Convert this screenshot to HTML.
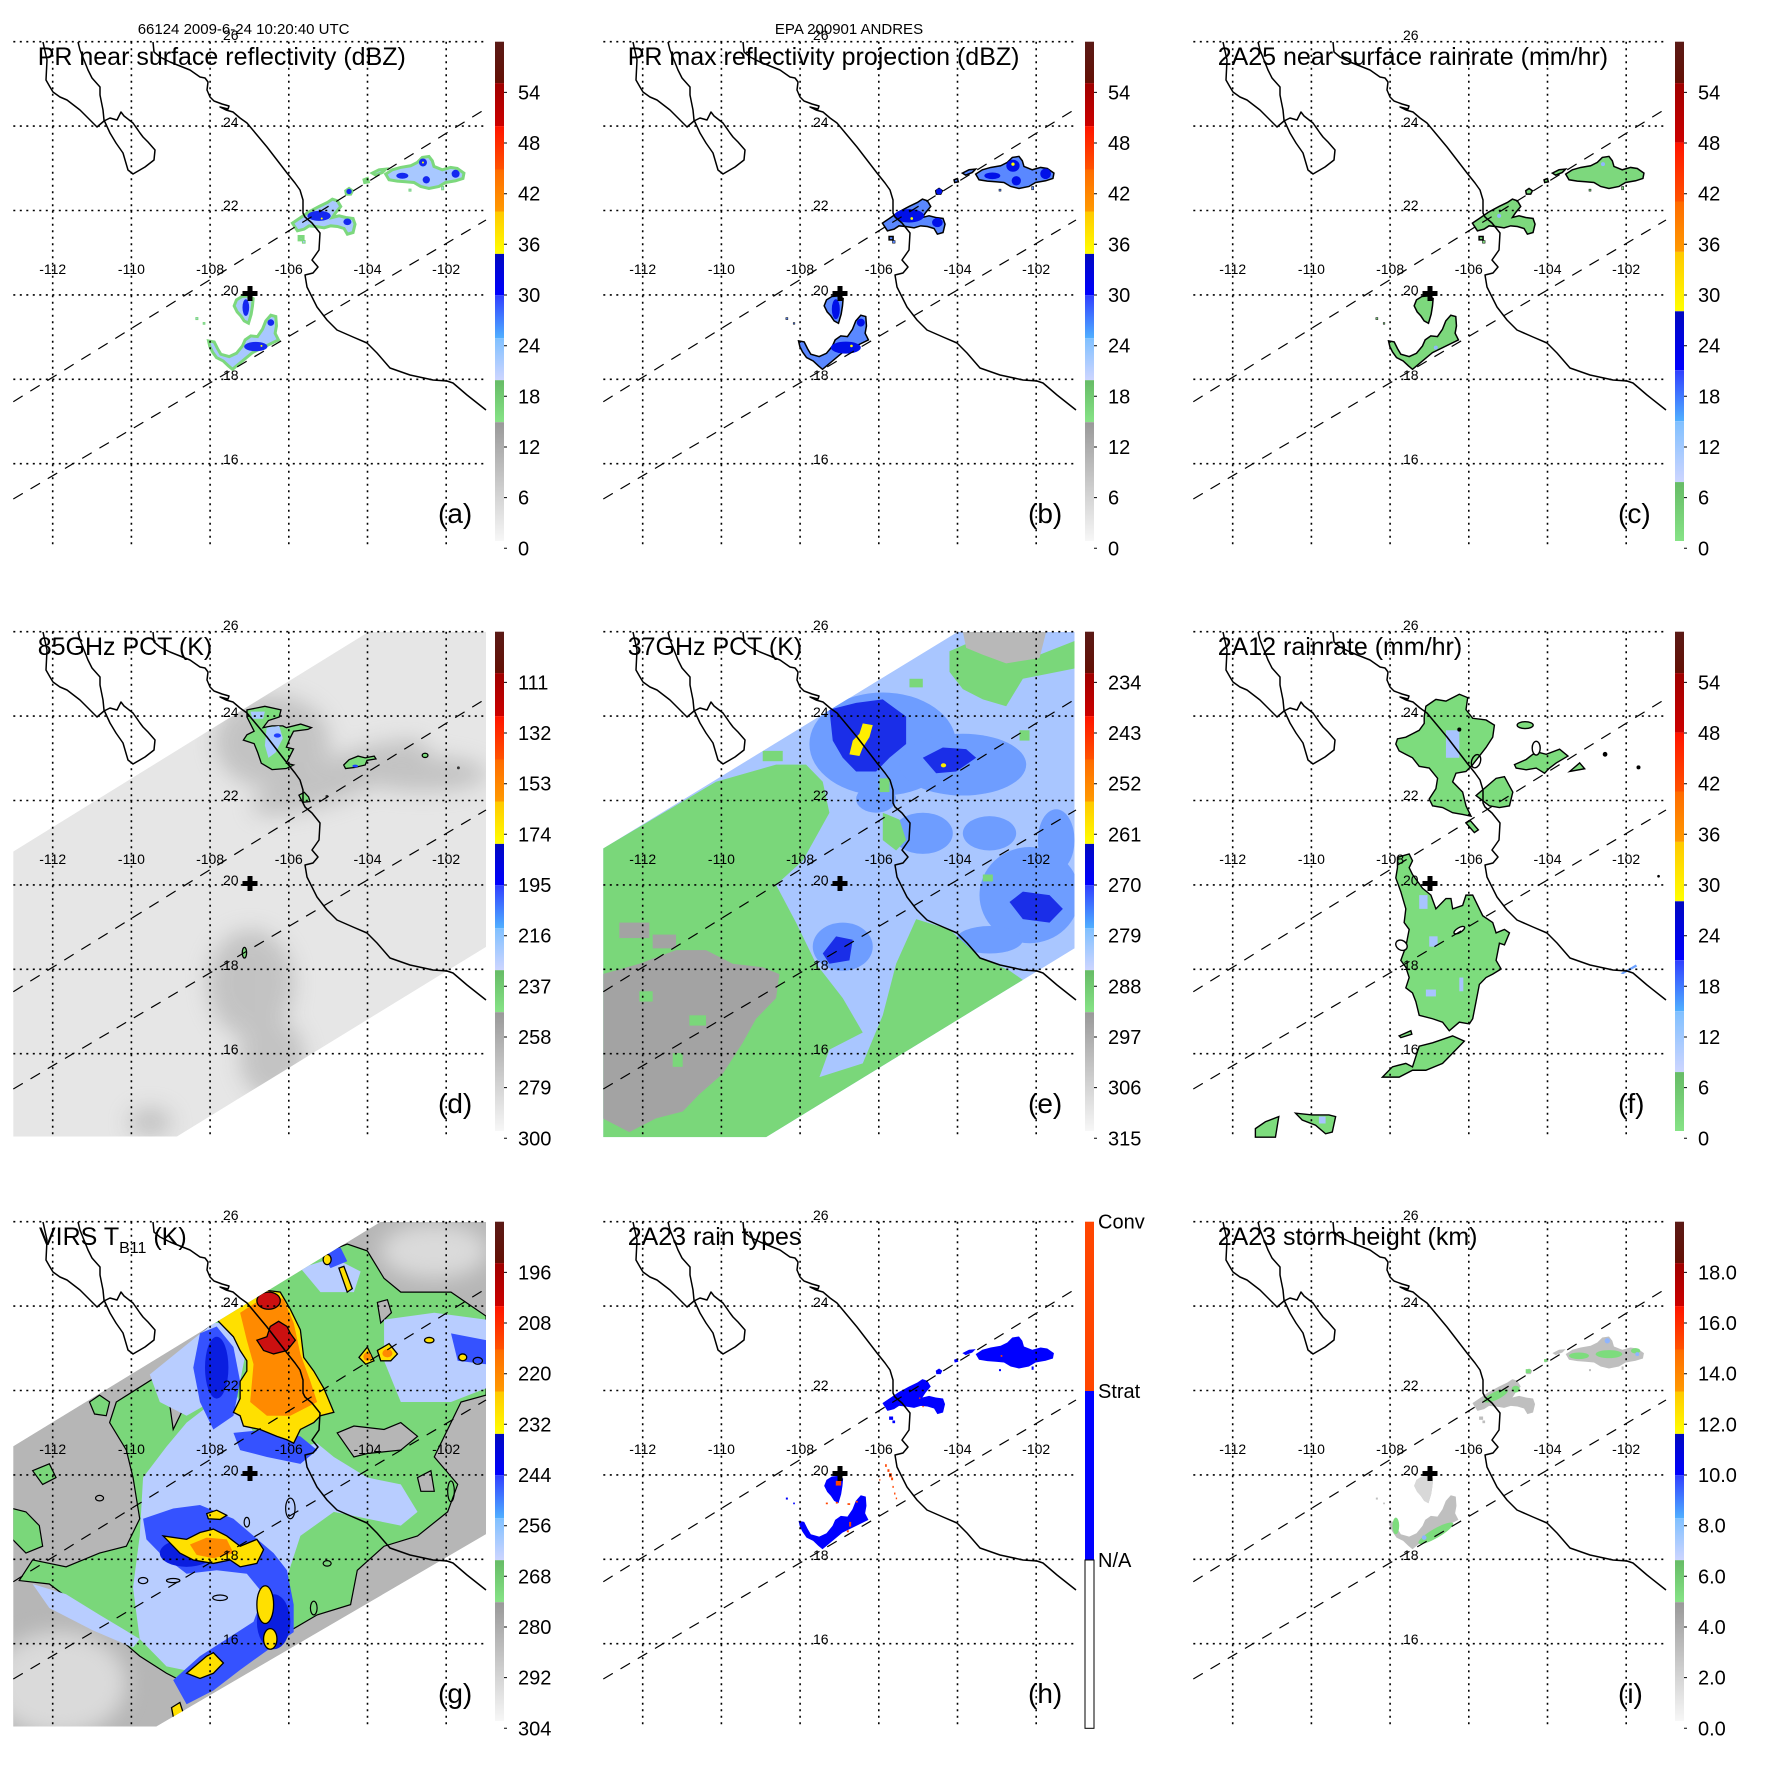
<!DOCTYPE html>
<html><head><meta charset="utf-8"><style>html,body{margin:0;padding:0;background:#fff}svg{display:block}text{font-family:"Liberation Sans",sans-serif}</style></head><body>
<svg width="1771" height="1771" viewBox="0 0 1771 1771" xmlns="http://www.w3.org/2000/svg" xmlns:xlink="http://www.w3.org/1999/xlink">
<defs>
<clipPath id="fr"><rect x="13.3" y="41.7" width="472.7" height="506.6"/></clipPath>
<clipPath id="swD"><polygon points="35,650 1030,30 1360,30 1360,915 495,1450 35,1450"/></clipPath>
<clipPath id="swE"><polygon points="40,665 1105,33 1455,33 1455,955 530,1505 40,1505"/></clipPath>
<clipPath id="swG"><polygon points="40,690 1140,35 1455,35 1455,945 470,1505 40,1505"/></clipPath>
<filter id="bl" x="-50%" y="-50%" width="200%" height="200%"><feGaussianBlur stdDeviation="30"/></filter>
<linearGradient id="g1" x1="0" y1="0" x2="0" y2="1"><stop offset="0" stop-color="#5a1a16"/><stop offset="1" stop-color="#641006"/></linearGradient>
<linearGradient id="g2" x1="0" y1="0" x2="0" y2="1"><stop offset="0" stop-color="#9e0000"/><stop offset="1" stop-color="#cc0000"/></linearGradient>
<linearGradient id="g3" x1="0" y1="0" x2="0" y2="1"><stop offset="0" stop-color="#ff1400"/><stop offset="1" stop-color="#ff5200"/></linearGradient>
<linearGradient id="g4" x1="0" y1="0" x2="0" y2="1"><stop offset="0" stop-color="#ff6a00"/><stop offset="1" stop-color="#ff9a00"/></linearGradient>
<linearGradient id="g5" x1="0" y1="0" x2="0" y2="1"><stop offset="0" stop-color="#ffc800"/><stop offset="1" stop-color="#ffff00"/></linearGradient>
<linearGradient id="g6" x1="0" y1="0" x2="0" y2="1"><stop offset="0" stop-color="#0008c0"/><stop offset="1" stop-color="#0000ff"/></linearGradient>
<linearGradient id="g7" x1="0" y1="0" x2="0" y2="1"><stop offset="0" stop-color="#3040ff"/><stop offset="1" stop-color="#50b0ff"/></linearGradient>
<linearGradient id="g8" x1="0" y1="0" x2="0" y2="1"><stop offset="0" stop-color="#80c0ff"/><stop offset="1" stop-color="#cdd5ff"/></linearGradient>
<linearGradient id="g9" x1="0" y1="0" x2="0" y2="1"><stop offset="0" stop-color="#66bb66"/><stop offset="1" stop-color="#86e386"/></linearGradient>
<linearGradient id="g10" x1="0" y1="0" x2="0" y2="1"><stop offset="0" stop-color="#999999"/><stop offset="1" stop-color="#f7f7f7"/></linearGradient>

<g id="cbA">
<rect x="495" y="41.7" width="9" height="41.4" fill="url(#g1)"/>
<rect x="495" y="83.1" width="9" height="43" fill="url(#g2)"/>
<rect x="495" y="126.1" width="9" height="43.4" fill="url(#g3)"/>
<rect x="495" y="169.5" width="9" height="42" fill="url(#g4)"/>
<rect x="495" y="211.5" width="9" height="42.4" fill="url(#g5)"/>
<rect x="495" y="253.9" width="9" height="41.4" fill="url(#g6)"/>
<rect x="495" y="295.3" width="9" height="43" fill="url(#g7)"/>
<rect x="495" y="338.3" width="9" height="41.9" fill="url(#g8)"/>
<rect x="495" y="380.2" width="9" height="42" fill="url(#g9)"/>
<rect x="495" y="422.2" width="9" height="118.8" fill="url(#g10)"/>
</g>
<g id="cbC">
<rect x="495" y="41.7" width="9" height="41.4" fill="url(#g1)"/>
<rect x="495" y="83.1" width="9" height="59.5" fill="url(#g2)"/>
<rect x="495" y="142.6" width="9" height="58.9" fill="url(#g3)"/>
<rect x="495" y="201.5" width="9" height="50.4" fill="url(#g4)"/>
<rect x="495" y="251.9" width="9" height="59.4" fill="url(#g5)"/>
<rect x="495" y="311.3" width="9" height="58.9" fill="url(#g6)"/>
<rect x="495" y="370.2" width="9" height="51" fill="url(#g7)"/>
<rect x="495" y="421.2" width="9" height="60.9" fill="url(#g8)"/>
<rect x="495" y="482.1" width="9" height="58.9" fill="url(#g9)"/>
</g>
<g id="ticks" stroke="#000" stroke-width="1">
<path d="M504,92.4h3M504,143h3M504,193.7h3M504,244.3h3M504,295h3M504,345.7h3M504,396.3h3M504,447h3M504,497.6h3M504,548.3h3"/>
</g>

<g id="coast" fill="none" stroke="#000" stroke-width="1.5" stroke-linejoin="round">
<path d="M43,42 L47,60 L46,80 L50,87 L53,92 L60,97 L67,100 L80,110 L97,127 L104,121 L110,118 L117,120 L121,112 L124,116 L133,123 L140,133 L143,137 L148,142 L155,150 L154,160 L145,167 L133,174 L128,170 L123,153 L116,143 L110,133 L104,120 L103,110 L100,95 L100,87 L92,78 L88,70 L80,50 L78,42"/>
<path d="M153,42 L154,52 L160,57 L170,62 L180,66 L190,70 L200,77 L205,78 L208,82 L207,90 L210,97 L214,101 L222,104 L229,106 L228,109 L220,107 L226,110 L233,112 L240,118 L247,123 L257,135 L267,147 L277,160 L287,173 L295,183 L300,190 L303,200 L303,213 L305,217 L312,223 L320,233 L319,250 L312,260 L318,267 L313,273 L305,275 L307,287 L317,307 L327,320 L337,330 L353,337 L367,343 L377,353 L390,368 L410,375 L433,380 L447,381 L453,383 L467,395 L486,410"/>
</g>
<g id="grid" fill="none" stroke="#000" stroke-width="1.6" stroke-dasharray="2 4.5">
<path d="M13.3,41.7H486M13.3,126.1H486M13.3,210.5H486M13.3,294.9H486M13.3,379.3H486M13.3,463.7H486"/>
<path d="M52.7,41.7V548.3M131.4,41.7V548.3M210.1,41.7V548.3M288.8,41.7V548.3M367.5,41.7V548.3M446.2,41.7V548.3"/>
</g>
<g id="swl" fill="none" stroke="#000" stroke-width="1.2" stroke-dasharray="11 9">
<path d="M13.3,401.7 L486,108.6"/>
<path d="M13.3,499 L486,220"/>
</g>
<g id="cross" fill="#000"><rect x="242.5" y="291" width="15" height="5"/><rect x="247.5" y="286" width="5" height="15"/></g>
<g id="ll" font-size="14" fill="#000">
<text x="223" y="40">26</text><text x="223" y="127">24</text><text x="223" y="210">22</text><text x="223" y="295">20</text><text x="223" y="380">18</text><text x="223" y="464">16</text>
<g text-anchor="middle"><text x="52.7" y="274">-112</text><text x="131.4" y="274">-110</text><text x="210.1" y="274">-108</text><text x="288.8" y="274">-106</text><text x="367.5" y="274">-104</text><text x="446.2" y="274">-102</text></g>
</g>

<g id="rp" transform="translate(-0.6,149.1) scale(0.333,0.3336)">
<polygon vector-effect="non-scaling-stroke" points="880,222 905,205 930,188 960,172 985,160 1000,150 1015,155 1025,172 1010,190 1000,205 1020,200 1040,205 1062,208 1068,225 1062,250 1045,255 1035,238 1015,232 995,230 975,236 950,232 930,230 915,240 895,245"/>
<polygon vector-effect="non-scaling-stroke" points="1160,75 1180,62 1205,55 1235,50 1255,40 1270,25 1290,22 1300,35 1305,52 1330,62 1355,55 1375,58 1395,72 1392,88 1370,95 1340,100 1320,112 1290,118 1265,112 1245,100 1220,98 1195,96 1170,92"/>
<polygon vector-effect="non-scaling-stroke" points="1120,72 1140,62 1160,60 1150,70 1130,78"/>
<polygon vector-effect="non-scaling-stroke" points="1040,125 1050,118 1060,125 1055,135 1042,135"/>
<polygon vector-effect="non-scaling-stroke" points="1095,92 1105,88 1108,98 1097,100"/>
<polygon vector-effect="non-scaling-stroke" points="712,452 728,442 748,440 762,448 760,470 756,495 748,522 735,515 725,500 714,488 705,470"/>
<polygon vector-effect="non-scaling-stroke" points="628,575 645,578 655,598 665,615 690,622 712,612 730,590 738,572 755,560 775,562 790,540 800,515 815,498 830,502 832,530 828,552 838,572 760,610 700,660 688,650 672,635 652,625 640,608 632,592"/>
<rect vector-effect="non-scaling-stroke" x="900" y="262" width="12" height="10"/><rect x="910" y="274" width="8" height="8"/><rect x="590" y="505" width="6" height="6"/><rect x="612" y="520" width="5" height="5"/><rect x="1230" y="120" width="6" height="6"/><rect x="1328" y="112" width="6" height="10"/>
</g>
</defs>

<text x="137.7" y="34" font-size="15">66124 2009-6-24 10:20:40 UTC</text>
<text x="849" y="34" font-size="15" text-anchor="middle">EPA 200901 ANDRES</text>

<!-- Panel a -->
<g transform="translate(0,0)">
<g clip-path="url(#fr)">
<use xlink:href="#rp" fill="#a8c8ff" stroke="#7dd87d" stroke-width="3"/>
<g transform="translate(-0.6,149.1) scale(0.333,0.3336)" fill="#1428f0">
<ellipse cx="960" cy="200" rx="35" ry="15"/><ellipse cx="1045" cy="218" rx="12" ry="10"/><circle cx="1050" cy="127" r="8"/><circle cx="1272" cy="40" r="12"/><circle cx="1282" cy="92" r="11"/><ellipse cx="1210" cy="80" rx="18" ry="9"/><circle cx="1370" cy="74" r="12"/><ellipse cx="740" cy="475" rx="10" ry="25"/><ellipse cx="770" cy="592" rx="35" ry="14"/><circle cx="815" cy="520" r="10"/>
<g fill="#ffff00"><circle cx="968" cy="208" r="3"/><circle cx="787" cy="590" r="3"/><circle cx="1272" cy="40" r="3"/></g>
</g>
</g>
<use xlink:href="#coast"/><use xlink:href="#grid"/><use xlink:href="#swl"/><use xlink:href="#cross"/><use xlink:href="#ll"/>
<text x="37.7" y="65" font-size="25">PR near surface reflectivity (dBZ)</text>
<text x="438" y="523" font-size="28">(a)</text>
<use xlink:href="#cbA"/><use xlink:href="#ticks"/>
<g font-size="20"><text x="518" y="99.4">54</text><text x="518" y="150">48</text><text x="518" y="200.7">42</text><text x="518" y="251.3">36</text><text x="518" y="302">30</text><text x="518" y="352.7">24</text><text x="518" y="403.3">18</text><text x="518" y="454">12</text><text x="518" y="504.6">6</text><text x="518" y="555.3">0</text></g>
</g>

<!-- Panel b -->
<g transform="translate(590,0)">
<g clip-path="url(#fr)">
<use xlink:href="#rp" fill="#5a88ff" stroke="#000" stroke-width="1.5"/>
<g transform="translate(-0.6,149.1) scale(0.333,0.3336)" fill="#0010e8">
<ellipse cx="960" cy="200" rx="45" ry="20"/><ellipse cx="1045" cy="220" rx="16" ry="14"/><circle cx="1050" cy="127" r="9"/><ellipse cx="1272" cy="50" rx="20" ry="18"/><circle cx="1282" cy="95" r="14"/><ellipse cx="1210" cy="80" rx="24" ry="10"/><circle cx="1370" cy="74" r="16"/><ellipse cx="740" cy="480" rx="12" ry="30"/><ellipse cx="770" cy="595" rx="45" ry="18"/><circle cx="815" cy="520" r="12"/>
<g fill="#ffff00"><circle cx="968" cy="208" r="4"/><circle cx="787" cy="590" r="4"/><circle cx="1272" cy="45" r="5"/></g>
</g>
</g>
<use xlink:href="#coast"/><use xlink:href="#grid"/><use xlink:href="#swl"/><use xlink:href="#cross"/><use xlink:href="#ll"/>
<text x="37.7" y="65" font-size="25">PR max reflectivity projection (dBZ)</text>
<text x="438" y="523" font-size="28">(b)</text>
<use xlink:href="#cbA"/><use xlink:href="#ticks"/>
<g font-size="20"><text x="518" y="99.4">54</text><text x="518" y="150">48</text><text x="518" y="200.7">42</text><text x="518" y="251.3">36</text><text x="518" y="302">30</text><text x="518" y="352.7">24</text><text x="518" y="403.3">18</text><text x="518" y="454">12</text><text x="518" y="504.6">6</text><text x="518" y="555.3">0</text></g>
</g>

<!-- Panel c -->
<g transform="translate(1180,0)">
<g clip-path="url(#fr)">
<use xlink:href="#rp" fill="#7dd87d" stroke="#000" stroke-width="1.5"/>
<g transform="translate(-0.6,149.1) scale(0.333,0.3336)" fill="#90b8ff">
<circle cx="960" cy="200" r="6"/><circle cx="1272" cy="45" r="6"/><circle cx="770" cy="595" r="6"/>
</g>
</g>
<use xlink:href="#coast"/><use xlink:href="#grid"/><use xlink:href="#swl"/><use xlink:href="#cross"/><use xlink:href="#ll"/>
<text x="37.7" y="65" font-size="25">2A25 near surface rainrate (mm/hr)</text>
<text x="438" y="523" font-size="28">(c)</text>
<use xlink:href="#cbC"/><use xlink:href="#ticks"/>
<g font-size="20"><text x="518" y="99.4">54</text><text x="518" y="150">48</text><text x="518" y="200.7">42</text><text x="518" y="251.3">36</text><text x="518" y="302">30</text><text x="518" y="352.7">24</text><text x="518" y="403.3">18</text><text x="518" y="454">12</text><text x="518" y="504.6">6</text><text x="518" y="555.3">0</text></g>
</g>

<!-- Panel d -->
<g transform="translate(0,590)">
<g clip-path="url(#fr)">
<g transform="translate(-0.34,31) scale(0.3584,0.3555)">
<g clip-path="url(#swD)">
<polygon fill="#e6e6e6" points="35,650 1030,30 1360,30 1360,915 495,1450 35,1450"/>
<g filter="url(#bl)" fill="#a0a0a0" opacity="0.5">
<ellipse cx="760" cy="340" rx="160" ry="130"/><ellipse cx="950" cy="440" rx="260" ry="60" transform="rotate(-20 950 440)"/><ellipse cx="700" cy="1020" rx="120" ry="150"/><ellipse cx="760" cy="1230" rx="90" ry="110"/><ellipse cx="1180" cy="430" rx="180" ry="50"/><ellipse cx="420" cy="1410" rx="60" ry="40"/>
</g>
</g>
<g fill="#7ddc7d" stroke="#000" stroke-width="1.3">
<polygon vector-effect="non-scaling-stroke" points="690,250 740,240 785,250 780,270 750,280 735,300 760,295 790,295 800,300 840,290 870,300 860,305 820,310 810,330 800,355 820,360 810,380 800,400 820,405 800,415 760,418 730,400 720,370 710,345 680,335 690,320 710,310 700,290 690,270"/>
<polygon vector-effect="non-scaling-stroke" points="960,405 975,390 1000,380 1020,385 1045,380 1050,388 1025,392 1020,405 990,412 965,415"/>
<polygon vector-effect="non-scaling-stroke" points="835,490 850,482 862,495 866,508 845,510"/>
<ellipse vector-effect="non-scaling-stroke" cx="1187" cy="378" rx="8" ry="6"/>
<ellipse vector-effect="non-scaling-stroke" cx="683" cy="933" rx="6" ry="15"/>
</g>
<g fill="#a8c8ff"><polygon points="745,300 780,295 790,330 770,370 750,385 740,350"/><polygon points="700,255 740,255 735,275 705,275"/></g>
<g fill="#2040ff"><ellipse cx="775" cy="322" rx="10" ry="6"/><ellipse cx="992" cy="408" rx="8" ry="4"/></g>
<g fill="#333"><circle cx="1280" cy="413" r="4"/><circle cx="913" cy="493" r="4"/></g>
</g>
</g>
<use xlink:href="#coast"/><use xlink:href="#grid"/><use xlink:href="#swl"/><use xlink:href="#cross"/><use xlink:href="#ll"/>
<text x="37.7" y="65" font-size="25">85GHz PCT (K)</text>
<text x="438" y="523" font-size="28">(d)</text>
<use xlink:href="#cbA"/><use xlink:href="#ticks"/>
<g font-size="20"><text x="518" y="99.4">111</text><text x="518" y="150">132</text><text x="518" y="200.7">153</text><text x="518" y="251.3">174</text><text x="518" y="302">195</text><text x="518" y="352.7">216</text><text x="518" y="403.3">237</text><text x="518" y="454">258</text><text x="518" y="504.6">279</text><text x="518" y="555.3">300</text></g>
</g>

<!-- Panel e -->
<g transform="translate(590,590)">
<g clip-path="url(#fr)">
<g transform="translate(-0.7,30.4) scale(0.3335,0.3434)">
<g clip-path="url(#swE)">
<polygon fill="#a9c6ff" points="40,665 1105,33 1455,33 1455,955 530,1505 40,1505"/>
<g fill="#6e9dff">
<ellipse cx="880" cy="360" rx="220" ry="150"/><ellipse cx="1120" cy="420" rx="190" ry="90"/><ellipse cx="1320" cy="800" rx="150" ry="140"/><ellipse cx="1200" cy="930" rx="100" ry="40"/><ellipse cx="760" cy="950" rx="90" ry="70"/><ellipse cx="1400" cy="640" rx="55" ry="90"/><ellipse cx="1000" cy="620" rx="90" ry="60"/><ellipse cx="1200" cy="620" rx="80" ry="50"/><ellipse cx="860" cy="520" rx="60" ry="40"/>
</g>
<polygon fill="#7ad77a" points="40,665 380,470 560,420 650,420 700,470 720,560 640,700 560,770 620,880 680,1000 760,1100 820,1200 720,1250 690,1330 820,1290 880,1150 920,1000 980,870 1080,900 1170,980 1260,1020 1300,1047 530,1505 40,1505"/>
<polygon fill="#7ad77a" points="880,560 930,580 950,640 920,670 880,640"/>
<polygon fill="#7ad77a" points="1080,90 1150,60 1250,120 1350,100 1455,60 1455,140 1300,170 1250,250 1180,230 1120,200 1080,150"/>
<polygon fill="#b8b8b8" points="1120,33 1370,33 1350,110 1250,125 1180,100 1130,80"/>
<g fill="#7ad77a"><rect x="960" y="170" width="40" height="25"/><rect x="1290" y="320" width="30" height="30"/><rect x="520" y="380" width="60" height="30"/><rect x="870" y="460" width="30" height="40"/><rect x="1180" y="740" width="30" height="20"/></g>
<polygon fill="#a3a3a3" points="40,1030 150,1000 260,960 350,960 430,1000 520,1010 570,1030 560,1100 500,1160 460,1230 400,1320 330,1380 280,1430 200,1450 120,1490 40,1450"/>
<g fill="#a3a3a3"><rect x="90" y="880" width="90" height="45"/><rect x="190" y="915" width="70" height="40"/></g>
<g fill="#7ad77a"><rect x="150" y="1080" width="40" height="30"/><rect x="300" y="1150" width="50" height="30"/><rect x="250" y="1260" width="30" height="40"/></g>
<g fill="#1a2ee8">
<polygon points="720,260 800,240 880,230 950,280 950,360 900,400 860,440 800,440 760,400 730,350"/>
<polygon points="1000,400 1060,370 1130,375 1160,400 1100,440 1040,445"/>
<polygon points="1260,820 1300,790 1380,800 1420,840 1380,880 1300,870"/>
<polygon points="700,970 740,920 790,930 780,990 720,1000"/>
</g>
<polygon fill="#ffee00" points="820,300 850,305 840,340 820,370 810,395 780,390 790,350 810,330"/>
<ellipse cx="1062" cy="422" rx="8" ry="6" fill="#ffee00"/>
</g>
</g>
</g>
<use xlink:href="#coast"/><use xlink:href="#grid"/><use xlink:href="#swl"/><use xlink:href="#cross"/><use xlink:href="#ll"/>
<text x="37.7" y="65" font-size="25">37GHz PCT (K)</text>
<text x="438" y="523" font-size="28">(e)</text>
<use xlink:href="#cbA"/><use xlink:href="#ticks"/>
<g font-size="20"><text x="518" y="99.4">234</text><text x="518" y="150">243</text><text x="518" y="200.7">252</text><text x="518" y="251.3">261</text><text x="518" y="302">270</text><text x="518" y="352.7">279</text><text x="518" y="403.3">288</text><text x="518" y="454">297</text><text x="518" y="504.6">306</text><text x="518" y="555.3">315</text></g>
</g>

<!-- Panel f -->
<g transform="translate(1180,590)">
<g clip-path="url(#fr)">
<g transform="translate(-1.5,30.4) scale(0.3343,0.3434)" fill="#7ddc7d" stroke="#000" stroke-width="1.4">
<polygon vector-effect="non-scaling-stroke" points="740,250 770,230 800,235 840,215 865,225 860,260 880,285 920,290 945,305 940,340 920,370 900,395 880,420 860,440 830,445 820,470 850,500 860,540 875,570 850,565 820,560 790,545 760,540 750,520 770,490 775,460 750,430 720,425 700,400 680,390 660,380 650,360 655,345 680,340 700,330 720,320 735,300 735,280"/>
<polygon vector-effect="non-scaling-stroke" points="1005,420 1040,405 1060,390 1080,385 1100,390 1140,375 1165,395 1130,415 1110,430 1095,445 1070,430 1040,435 1010,430"/>
<polygon vector-effect="non-scaling-stroke" points="1170,440 1200,415 1215,432"/>
<ellipse vector-effect="non-scaling-stroke" cx="1037" cy="305" rx="24" ry="10"/>
<polygon vector-effect="non-scaling-stroke" points="890,510 950,460 975,455 1000,500 990,540 960,545 930,540"/>
<polygon vector-effect="non-scaling-stroke" points="860,590 872,582 897,610 885,618"/>
<polygon vector-effect="non-scaling-stroke" points="655,690 690,680 700,700 690,720 700,740 730,780 755,800 770,840 800,810 815,810 820,840 850,830 860,800 880,800 910,860 940,880 950,910 975,900 990,910 975,945 960,940 950,990 965,1015 940,1030 920,1040 900,1060 890,1110 880,1160 870,1175 840,1170 810,1195 790,1170 760,1160 720,1150 710,1110 700,1085 680,1070 690,1040 680,1010 665,990 680,950 690,900 675,880 680,840 665,790 650,750 655,720"/>
<polygon vector-effect="non-scaling-stroke" points="610,1330 640,1300 680,1290 700,1300 720,1240 760,1230 820,1210 855,1225 820,1260 790,1290 740,1310 700,1310 660,1330"/>
<polygon vector-effect="non-scaling-stroke" points="230,1480 260,1460 300,1445 290,1505 230,1505"/>
<polygon vector-effect="non-scaling-stroke" points="350,1435 400,1440 450,1440 470,1445 460,1490 440,1495 410,1470 370,1455"/>
<polygon vector-effect="non-scaling-stroke" points="660,1210 695,1195 698,1205 665,1215"/>
<ellipse vector-effect="non-scaling-stroke" cx="1070" cy="372" rx="12" ry="20" fill="#fff"/>
<ellipse vector-effect="non-scaling-stroke" cx="890" cy="410" rx="13" ry="20" fill="none" transform="rotate(20 890 410)"/>
<ellipse vector-effect="non-scaling-stroke" cx="667" cy="946" rx="18" ry="14" fill="#fff" transform="rotate(30 667 946)"/>
<ellipse vector-effect="non-scaling-stroke" cx="840" cy="902" rx="18" ry="7" fill="#fff" transform="rotate(-30 840 902)"/>
<g stroke="none" fill="#a8c4ff"><rect x="800" y="320" width="40" height="80"/><rect x="720" y="800" width="25" height="40"/><rect x="750" y="920" width="25" height="30"/><rect x="840" y="1040" width="12" height="40"/><rect x="740" y="1075" width="30" height="20"/><rect x="420" y="1445" width="20" height="20"/></g>
<g stroke="none" fill="#000"><circle cx="1276" cy="390" r="7"/><circle cx="1376" cy="428" r="6"/><circle cx="1436" cy="745" r="4"/><circle cx="840" cy="318" r="6"/></g>
<polygon stroke="none" fill="#6aa0ff" points="1322,1028 1368,1002 1372,1008 1330,1030"/>
</g>
</g>
<use xlink:href="#coast"/><use xlink:href="#grid"/><use xlink:href="#swl"/><use xlink:href="#cross"/><use xlink:href="#ll"/>
<text x="37.7" y="65" font-size="25">2A12 rainrate (mm/hr)</text>
<text x="438" y="523" font-size="28">(f)</text>
<use xlink:href="#cbC"/><use xlink:href="#ticks"/>
<g font-size="20"><text x="518" y="99.4">54</text><text x="518" y="150">48</text><text x="518" y="200.7">42</text><text x="518" y="251.3">36</text><text x="518" y="302">30</text><text x="518" y="352.7">24</text><text x="518" y="403.3">18</text><text x="518" y="454">12</text><text x="518" y="504.6">6</text><text x="518" y="555.3">0</text></g>
</g>

<!-- Panel g -->
<g transform="translate(0,1180)">
<g clip-path="url(#fr)">
<g transform="translate(-0.85,29.7) scale(0.3347,0.3434)">
<g clip-path="url(#swG)">
<polygon fill="#b6b6b6" points="40,690 1140,35 1455,35 1455,945 470,1505 40,1505"/>
<g filter="url(#bl)" fill="#dadada"><ellipse cx="180" cy="1380" rx="200" ry="150"/><ellipse cx="1300" cy="120" rx="160" ry="80"/></g>
<g fill="#7ad77a" stroke="#000" stroke-width="1.2">
<polygon vector-effect="non-scaling-stroke" points="60,1080 150,1090 300,1200 420,1300 500,1350 560,1380 620,1260 700,1200 800,1230 880,1220 950,1180 1050,1150 1070,1050 1150,980 1250,950 1340,880 1370,800 1300,720 1380,560 1455,540 1455,310 1350,240 1200,240 1150,200 1100,120 1040,100 960,130 900,160 650,320 560,400 480,480 350,560 330,620 380,700 400,780 420,900 380,980 300,1000 200,1040 100,1020"/>
<polygon vector-effect="non-scaling-stroke" points="270,560 300,540 330,560 320,600 285,595"/>
<polygon vector-effect="non-scaling-stroke" points="40,870 80,880 120,920 130,980 80,1000 40,960"/>
<polygon vector-effect="non-scaling-stroke" points="100,760 150,740 170,780 130,800"/>
</g>
<g fill="#b6b6b6" stroke="#000" stroke-width="1.2">
<polygon vector-effect="non-scaling-stroke" points="1010,650 1060,630 1150,640 1200,620 1250,660 1200,700 1100,710 1060,720"/>
<polygon vector-effect="non-scaling-stroke" points="1130,270 1160,262 1172,300 1140,330"/>
<polygon vector-effect="non-scaling-stroke" points="500,500 540,480 560,560 520,640"/>
<polygon vector-effect="non-scaling-stroke" points="770,760 800,755 795,830 772,820"/>
<polygon vector-effect="non-scaling-stroke" points="1250,780 1290,760 1300,820 1260,820"/>
</g>
<g fill="#b8cdff">
<polygon points="430,780 500,690 560,620 640,560 700,520 760,650 850,700 950,680 1000,720 1100,780 1200,800 1250,880 1200,920 1100,900 1000,880 900,950 850,1100 820,1250 700,1300 600,1350 500,1330 420,1250 400,1100 420,950"/>
<polygon points="450,480 640,330 700,330 740,400 720,500 650,550 560,600 480,560"/>
<polygon points="1150,320 1300,300 1455,320 1455,520 1350,560 1200,560 1150,440"/>
<polygon points="900,170 1000,140 1080,180 1060,240 960,240"/>
<polygon points="100,1090 200,1120 300,1180 420,1250 400,1275 280,1225 150,1160"/>
</g>
<g fill="#3552ff">
<polygon points="430,900 520,870 600,860 700,900 760,950 820,1000 860,1050 880,1150 880,1230 820,1270 720,1340 640,1400 560,1440 520,1370 600,1300 680,1250 760,1200 790,1120 740,1060 650,1050 560,1060 480,1000 440,960"/>
<polygon points="600,360 650,340 700,400 720,500 700,600 640,640 600,560 580,460"/>
<polygon points="700,650 800,640 900,660 950,700 900,740 800,720 720,700"/>
<polygon points="1350,360 1455,380 1455,450 1370,440"/>
<polygon points="960,120 1020,110 1040,150 990,170"/>
</g>
<g fill="#0a1ee0"><ellipse cx="560" cy="1000" rx="80" ry="40"/><ellipse cx="820" cy="1200" rx="50" ry="80"/><ellipse cx="650" cy="460" rx="35" ry="90"/></g>
<g fill="#ffe000" stroke="#000" stroke-width="1.3">
<polygon vector-effect="non-scaling-stroke" points="650,320 740,260 800,235 840,240 870,290 900,350 910,430 940,470 970,520 1000,590 960,600 940,620 900,640 880,680 860,670 830,660 780,640 730,630 720,600 700,590 720,550 720,500 740,470 740,440 720,410 700,370"/>
<polygon vector-effect="non-scaling-stroke" points="490,950 560,960 600,940 640,930 680,950 720,980 770,960 790,990 770,1030 720,1040 690,1020 640,1030 580,1020 540,1000 520,980"/>
<polygon vector-effect="non-scaling-stroke" points="620,885 650,875 680,890 660,902 625,900"/>
<ellipse vector-effect="non-scaling-stroke" cx="795" cy="1150" rx="25" ry="55"/>
<ellipse vector-effect="non-scaling-stroke" cx="810" cy="1250" rx="20" ry="30"/>
<polygon vector-effect="non-scaling-stroke" points="560,1350 620,1300 640,1290 670,1320 640,1350 600,1365"/>
<polygon vector-effect="non-scaling-stroke" points="515,1450 540,1435 555,1480 525,1500"/>
<polygon vector-effect="non-scaling-stroke" points="1075,430 1100,400 1120,440 1095,450"/>
<polygon vector-effect="non-scaling-stroke" points="1130,410 1165,390 1190,420 1170,440 1140,440"/>
<ellipse vector-effect="non-scaling-stroke" cx="1385" cy="430" rx="12" ry="10"/>
<ellipse vector-effect="non-scaling-stroke" cx="980" cy="145" rx="12" ry="15"/>
<polygon vector-effect="non-scaling-stroke" points="1015,170 1030,165 1055,230 1040,240"/>
<ellipse vector-effect="non-scaling-stroke" cx="1285" cy="380" rx="14" ry="8"/>
</g>
<g fill="#ff8a00"><polygon points="720,300 800,250 850,260 880,330 900,420 930,500 950,560 870,600 800,600 750,560 760,450 740,380"/><polygon points="570,975 620,955 680,960 700,1000 640,1015 590,1005"/><ellipse cx="1100" cy="428" rx="12" ry="12"/><ellipse cx="1160" cy="418" rx="15" ry="12"/></g>
<g fill="#cc1010" stroke="#000" stroke-width="1.3"><ellipse vector-effect="non-scaling-stroke" cx="805" cy="265" rx="35" ry="25"/><polygon vector-effect="non-scaling-stroke" points="770,380 800,370 810,340 835,325 860,340 870,360 885,380 860,410 820,420 790,410"/></g>
<g fill="none" stroke="#000" stroke-width="1.2">
<ellipse vector-effect="non-scaling-stroke" cx="300" cy="840" rx="12" ry="8"/><ellipse vector-effect="non-scaling-stroke" cx="430" cy="1080" rx="14" ry="9"/><ellipse vector-effect="non-scaling-stroke" cx="520" cy="1080" rx="20" ry="6"/><ellipse vector-effect="non-scaling-stroke" cx="660" cy="1130" rx="22" ry="8"/><ellipse vector-effect="non-scaling-stroke" cx="870" cy="870" rx="14" ry="30"/><ellipse vector-effect="non-scaling-stroke" cx="940" cy="1160" rx="10" ry="20"/><ellipse vector-effect="non-scaling-stroke" cx="980" cy="1030" rx="12" ry="8"/><ellipse vector-effect="non-scaling-stroke" cx="1310" cy="1080" rx="12" ry="8"/><ellipse vector-effect="non-scaling-stroke" cx="1350" cy="820" rx="10" ry="30"/><ellipse vector-effect="non-scaling-stroke" cx="740" cy="910" rx="8" ry="14"/><ellipse vector-effect="non-scaling-stroke" cx="1430" cy="440" rx="14" ry="10"/>
</g>
</g>
</g>
</g>
<use xlink:href="#coast"/><use xlink:href="#grid"/><use xlink:href="#swl"/><use xlink:href="#cross"/><use xlink:href="#ll"/>
<text x="39" y="65" font-size="25">VIRS T<tspan font-size="16" dy="8">B11</tspan><tspan dy="-8"> (K)</tspan></text>
<text x="438" y="523" font-size="28">(g)</text>
<use xlink:href="#cbA"/><use xlink:href="#ticks"/>
<g font-size="20"><text x="518" y="99.4">196</text><text x="518" y="150">208</text><text x="518" y="200.7">220</text><text x="518" y="251.3">232</text><text x="518" y="302">244</text><text x="518" y="352.7">256</text><text x="518" y="403.3">268</text><text x="518" y="454">280</text><text x="518" y="504.6">292</text><text x="518" y="555.3">304</text></g>
</g>

<!-- Panel h -->
<g transform="translate(590,1180)">
<g clip-path="url(#fr)">
<use xlink:href="#rp" fill="#0000ff"/>
<g transform="translate(-0.6,149.1) scale(0.333,0.3336)" fill="#ff4500">
<rect x="740" y="455" width="16" height="14"/><rect x="888" y="405" width="5" height="8"/><rect x="895" y="420" width="6" height="8"/><rect x="900" y="432" width="8" height="12"/><rect x="906" y="445" width="6" height="8"/><rect x="870" y="450" width="4" height="4"/><rect x="910" y="470" width="4" height="6"/><rect x="915" y="490" width="4" height="6"/><rect x="920" y="505" width="4" height="5"/><rect x="710" y="520" width="6" height="5"/><rect x="740" y="518" width="6" height="5"/><rect x="775" y="522" width="8" height="5"/><rect x="800" y="515" width="6" height="5"/><rect x="780" y="578" width="6" height="14"/><rect x="773" y="603" width="6" height="6"/><rect x="990" y="205" width="4" height="4"/><rect x="1000" y="230" width="4" height="4"/><rect x="1235" y="78" width="5" height="5"/>
</g>
</g>
<use xlink:href="#coast"/><use xlink:href="#grid"/><use xlink:href="#swl"/><use xlink:href="#cross"/><use xlink:href="#ll"/>
<text x="37.7" y="65" font-size="25">2A23 rain types</text>
<text x="438" y="523" font-size="28">(h)</text>
<rect x="495" y="41.7" width="9" height="169.3" fill="#ff4500"/>
<rect x="495" y="211" width="9" height="169" fill="#0000ff"/>
<rect x="495" y="380" width="9" height="168.3" fill="#fff" stroke="#000" stroke-width="1"/>
<g font-size="20"><text x="508" y="48.7">Conv</text><text x="508" y="218">Strat</text><text x="508" y="387">N/A</text></g>
</g>

<!-- Panel i -->
<g transform="translate(1180,1180)">
<g clip-path="url(#fr)">
<use xlink:href="#rp" fill="#b4b4b4" opacity="0.85"/>
<g transform="translate(-0.6,149.1) scale(0.333,0.3336)">
<polygon fill="#d8d8d8" points="712,452 728,442 748,440 762,448 760,470 756,495 748,522 735,515 725,500 714,488 705,470"/>
<g fill="#7ddc7d"><ellipse cx="770" cy="612" rx="60" ry="14" transform="rotate(-30 770 612)"/><ellipse cx="650" cy="590" rx="10" ry="25"/><ellipse cx="950" cy="200" rx="40" ry="12" transform="rotate(-25 950 200)"/><ellipse cx="1010" cy="180" rx="12" ry="10"/><ellipse cx="1290" cy="75" rx="40" ry="12"/><ellipse cx="1200" cy="80" rx="30" ry="10"/><ellipse cx="1370" cy="65" rx="14" ry="8"/><rect x="1040" y="120" width="15" height="12"/><rect x="1095" y="90" width="10" height="8"/></g>
<g fill="#8fb5ff"><circle cx="1285" cy="35" r="8"/><circle cx="1375" cy="75" r="6"/><circle cx="735" cy="625" r="7"/></g>
</g>
</g>
<use xlink:href="#coast"/><use xlink:href="#grid"/><use xlink:href="#swl"/><use xlink:href="#cross"/><use xlink:href="#ll"/>
<text x="37.7" y="65" font-size="25">2A23 storm height (km)</text>
<text x="438" y="523" font-size="28">(i)</text>
<use xlink:href="#cbA"/><use xlink:href="#ticks"/>
<g font-size="20"><text x="518" y="99.4">18.0</text><text x="518" y="150">16.0</text><text x="518" y="200.7">14.0</text><text x="518" y="251.3">12.0</text><text x="518" y="302">10.0</text><text x="518" y="352.7">8.0</text><text x="518" y="403.3">6.0</text><text x="518" y="454">4.0</text><text x="518" y="504.6">2.0</text><text x="518" y="555.3">0.0</text></g>
</g>
</svg>
</body></html>
